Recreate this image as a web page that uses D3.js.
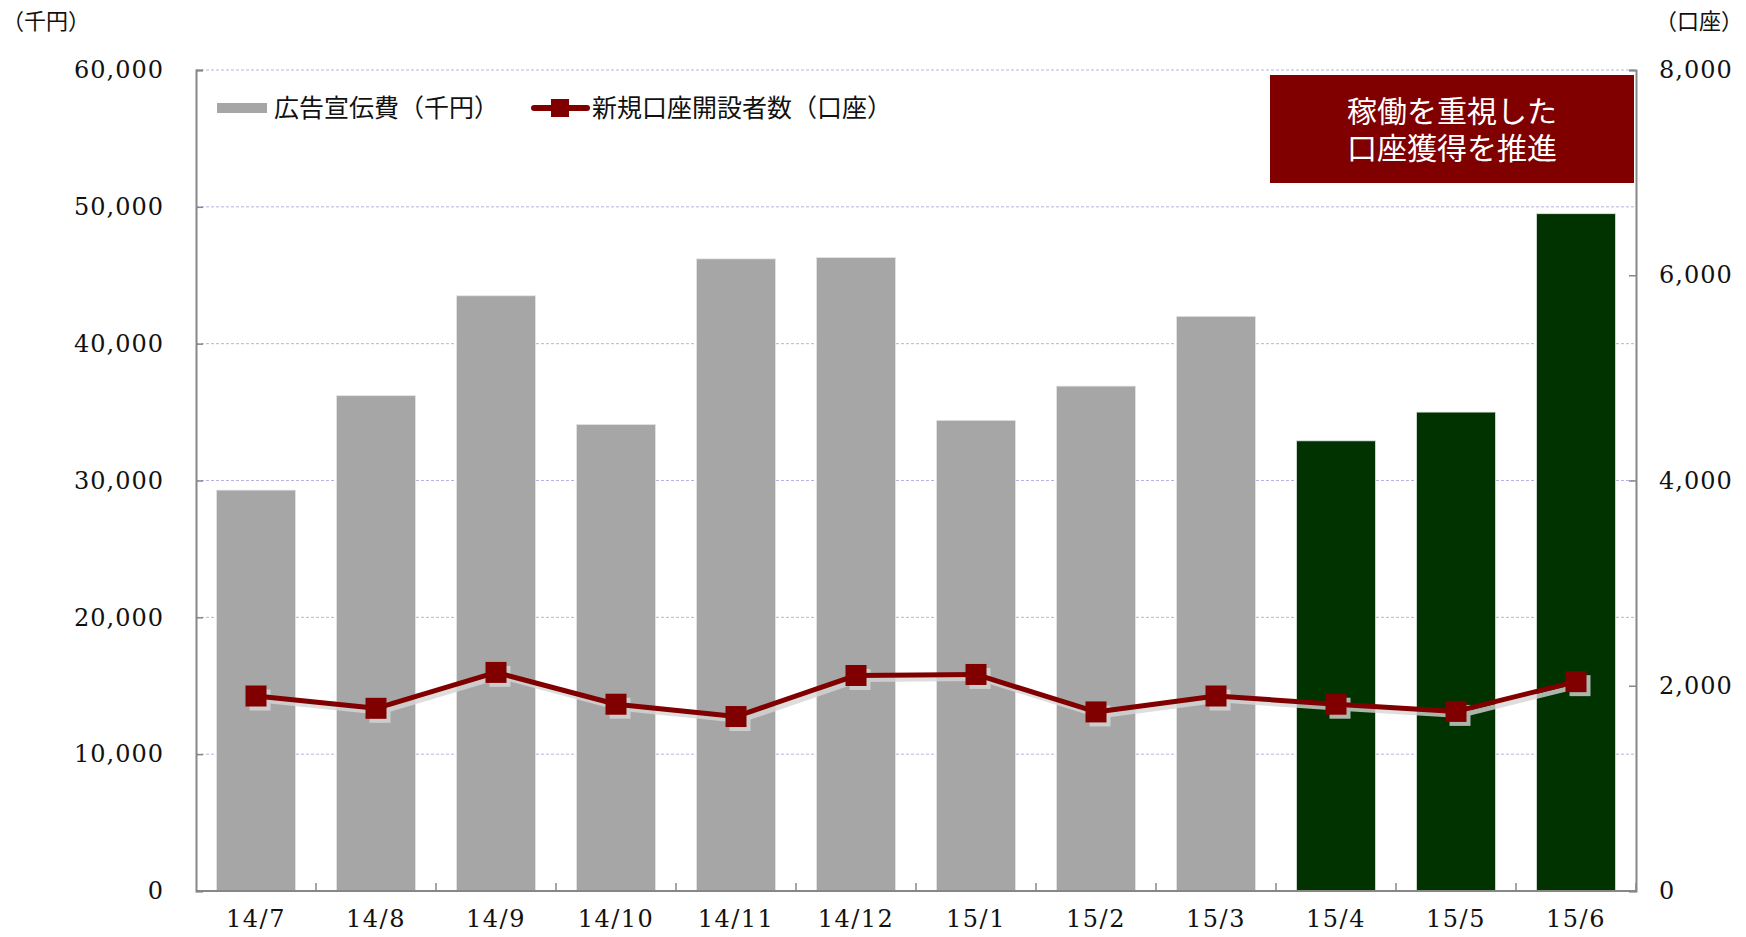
<!DOCTYPE html>
<html>
<head>
<meta charset="utf-8">
<script src="https://cdnjs.cloudflare.com/ajax/libs/d3/7.8.5/d3.min.js"></script>
<style>
  html, body { margin: 0; padding: 0; background: #fff; }
  svg { display: block; }
</style>
</head>
<body>
<div id="chart"></div>
<script>
// Values
const months = ["14/7", "14/8", "14/9", "14/10", "14/11", "14/12", "15/1", "15/2", "15/3", "15/4", "15/5", "15/6"];
const adCost = [29300, 36200, 43500, 34100, 46200, 46300, 34400, 36900, 42000, 32900, 35000, 49500];
const newAccounts = [1900, 1780, 2130, 1820, 1700, 2100, 2110, 1745, 1900, 1820, 1750, 2040];
const highlightMonths = ["15/4", "15/5", "15/6"];
const leftTicks = [0, 10000, 20000, 30000, 40000, 50000, 60000];
const rightTicks = [0, 2000, 4000, 6000, 8000];
const legendLabels = ["広告宣伝費（千円）", "新規口座開設者数（口座）"];
const noteLines = ["稼働を重視した", "口座獲得を推進"];

const width = 1746;
const height = 937;
const plot = { left: 196, right: 1636, top: 70, bottom: 891 };

const cjk = "'Noto Sans CJK JP', 'Noto Sans', sans-serif";
const serif = "'DejaVu Serif', 'Liberation Serif', serif";

const svg = d3
	.select("#chart")
	.append("svg")
	.attr("width", width)
	.attr("height", height);

const x = d3
	.scaleBand()
	.domain(months)
	.range([plot.left, plot.right])
	.paddingInner(0.34)
	.paddingOuter(0.17);

const yL = d3.scaleLinear().domain([0, 60000]).range([plot.bottom, plot.top]);
const yR = d3.scaleLinear().domain([0, 8000]).range([plot.bottom, plot.top]);

// gridlines
svg
	.append("g")
	.selectAll("line")
	.data(leftTicks.filter((d) => d > 0))
	.join("line")
	.attr("x1", plot.left)
	.attr("x2", plot.right)
	.attr("y1", (d) => yL(d))
	.attr("y2", (d) => yL(d))
	.attr("stroke", "#b4b4e4")
	.attr("stroke-width", 1)
	.attr("stroke-dasharray", "3,2");

// bars
svg
	.append("g")
	.selectAll("rect")
	.data(months)
	.join("rect")
	.attr("x", (d) => x(d))
	.attr("y", (d, i) => yL(adCost[i]))
	.attr("width", x.bandwidth())
	.attr("height", (d, i) => yL(0) - yL(adCost[i]))
	.attr("fill", (d) => (highlightMonths.includes(d) ? "#003300" : "#a6a6a6"))
	.attr("stroke", "#e6e6e6")
	.attr("stroke-width", 0.8);

// axes
const axisColor = "#878787";
const leftAxis = svg
	.append("g")
	.attr("transform", `translate(${plot.left},0)`)
	.call(d3.axisLeft(yL).tickValues(leftTicks).tickSize(-7).tickPadding(32).tickFormat(d3.format(",")));

const rightAxis = svg
	.append("g")
	.attr("transform", `translate(${plot.right},0)`)
	.call(d3.axisRight(yR).tickValues(rightTicks).tickSize(-7).tickPadding(23).tickFormat(d3.format(",")));

const bottomAxis = svg
	.append("g")
	.attr("transform", `translate(0,${plot.bottom})`)
	.call(d3.axisBottom(x).tickSize(0).tickPadding(19));

[leftAxis, rightAxis, bottomAxis].forEach((g) => {
	g.select(".domain").attr("stroke", axisColor).attr("stroke-width", 2);
	g.selectAll(".tick line").attr("stroke", axisColor).attr("stroke-width", 1.5);
	g.selectAll("text")
		.attr("fill", "#111")
		.style("font-family", serif)
		.style("font-size", "24px");
});
bottomAxis.select(".domain").attr("d", `M${plot.left},0H${plot.right}`);
bottomAxis.selectAll("text").style("letter-spacing", "1.5px");
leftAxis.selectAll("text").style("letter-spacing", "1px");
rightAxis.selectAll("text").style("letter-spacing", "1px");

// category separators on the x axis
const step = x.step();
svg
	.append("g")
	.selectAll("line")
	.data(months)
	.join("line")
	.attr("x1", (d) => x(d) + x.bandwidth() + (step - x.bandwidth()) / 2)
	.attr("x2", (d) => x(d) + x.bandwidth() + (step - x.bandwidth()) / 2)
	.attr("y1", plot.bottom)
	.attr("y2", plot.bottom - 8)
	.attr("stroke", axisColor)
	.attr("stroke-width", 1.5);

// line series (shadow first)
const lineGen = d3
	.line()
	.x((d, i) => x(months[i]) + x.bandwidth() / 2)
	.y((d) => yR(d));

const markSize = 21;
const shadow = svg.append("g").attr("transform", "translate(4,4)").attr("opacity", 0.8);
shadow
	.append("path")
	.datum(newAccounts)
	.attr("d", lineGen)
	.attr("fill", "none")
	.attr("stroke", "#d6d6d6")
	.attr("stroke-width", 5);
shadow
	.selectAll("rect")
	.data(newAccounts)
	.join("rect")
	.attr("x", (d, i) => x(months[i]) + x.bandwidth() / 2 - markSize / 2)
	.attr("y", (d) => yR(d) - markSize / 2)
	.attr("width", markSize)
	.attr("height", markSize)
	.attr("fill", "#d6d6d6");

svg
	.append("path")
	.datum(newAccounts)
	.attr("d", lineGen)
	.attr("fill", "none")
	.attr("stroke", "#800000")
	.attr("stroke-width", 5)
	.attr("stroke-linejoin", "round");

svg
	.append("g")
	.selectAll("rect")
	.data(newAccounts)
	.join("rect")
	.attr("x", (d, i) => x(months[i]) + x.bandwidth() / 2 - markSize / 2)
	.attr("y", (d) => yR(d) - markSize / 2)
	.attr("width", markSize)
	.attr("height", markSize)
	.attr("fill", "#800000");

// unit labels
svg
	.append("text")
	.attr("x", 2)
	.attr("y", 29)
	.style("font-family", cjk)
	.style("font-size", "22px")
	.attr("fill", "#111")
	.text("（千円）");
svg
	.append("text")
	.attr("x", 1743)
	.attr("y", 29)
	.attr("text-anchor", "end")
	.style("font-family", cjk)
	.style("font-size", "22px")
	.attr("fill", "#111")
	.text("（口座）");

// legend
const legend = svg.append("g");
legend
	.append("rect")
	.attr("x", 217)
	.attr("y", 103)
	.attr("width", 50)
	.attr("height", 10)
	.attr("fill", "#a6a6a6");
legend
	.append("text")
	.attr("x", 274)
	.attr("y", 117)
	.style("font-family", cjk)
	.style("font-size", "25px")
	.attr("fill", "#111")
	.text(legendLabels[0]);
legend
	.append("line")
	.attr("x1", 534)
	.attr("x2", 587)
	.attr("y1", 108)
	.attr("y2", 108)
	.attr("stroke", "#800000")
	.attr("stroke-width", 6)
	.attr("stroke-linecap", "round");
legend
	.append("rect")
	.attr("x", 551)
	.attr("y", 99)
	.attr("width", 18)
	.attr("height", 18)
	.attr("fill", "#800000");
legend
	.append("text")
	.attr("x", 592)
	.attr("y", 117)
	.style("font-family", cjk)
	.style("font-size", "25px")
	.attr("fill", "#111")
	.text(legendLabels[1]);

// annotation box
svg
	.append("rect")
	.attr("x", 1270)
	.attr("y", 75)
	.attr("width", 364)
	.attr("height", 108)
	.attr("fill", "#800000");
svg
	.append("text")
	.attr("text-anchor", "middle")
	.style("font-family", cjk)
	.style("font-size", "30px")
	.attr("fill", "#fff")
	.selectAll("tspan")
	.data(noteLines)
	.join("tspan")
	.attr("x", 1452)
	.attr("y", (d, i) => 122 + i * 37)
	.text((d) => d);
</script>
</body>
</html>
